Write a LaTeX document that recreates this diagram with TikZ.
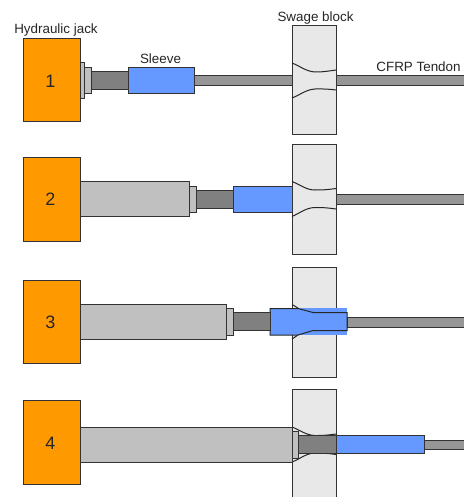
\documentclass[tikz,border=0pt]{standalone}
\usepackage{fontspec}
\setmainfont{Liberation Sans}
\definecolor{jackc}{HTML}{FF9900}
\definecolor{ramc}{HTML}{C0C0C0}
\definecolor{rodc}{HTML}{808080}
\definecolor{sleevec}{HTML}{6699FF}
\definecolor{blockc}{HTML}{E8E8E8}
\definecolor{tendonc}{HTML}{969696}
\tikzset{
 part/.style={draw=black!80,line width=1pt},
 jack/.style={part,fill=jackc},
 ram/.style={part,fill=ramc},
 rod/.style={part,fill=rodc},
 sleeve/.style={part,fill=sleevec},
 block/.style={part,fill=blockc},
 tendon/.style={part,fill=tendonc},
 profile/.style={draw=black!85,line width=1pt},
 lab/.style={font=\fontsize{13.4}{15}\selectfont,inner sep=0pt,text=black!85},
 num/.style={font=\fontsize{18}{20}\selectfont,inner sep=0pt,text=black!85}
}
\begin{document}
\begin{tikzpicture}[x=1pt,y=-1pt]
\useasboundingbox (0,0) rectangle (463,497);
\fill[white] (0,0) rectangle (463,497);
% Row 1
\draw[tendon] (194,76) rectangle (292,85.5);
\draw[tendon] (336,76) rectangle (464,85.5);
\draw[block] (292,26) rectangle (336,135);
\draw[profile] (292,63) .. controls (300,66) and (306,71.5) .. (315,72) .. controls (322,72.2) and (329,71) .. (336,70);
\draw[profile] (292,98) .. controls (300,95) and (306,89.5) .. (315,89) .. controls (322,88.8) and (329,89) .. (336,90);
\draw[jack] (23,39) rectangle (80,122);
\draw[ram] (80,63) rectangle (84.5,98.5);
\draw[ram] (84.5,67.5) rectangle (91,94);
\draw[rod] (91,72) rectangle (128,89.5);
\draw[sleeve] (128,67.5) rectangle (194,94);
% Row 2
\draw[tendon] (336,194.5) rectangle (464,204);
\draw[block] (292,144.5) rectangle (336,254);
\draw[profile] (292,181.5) .. controls (300,184.5) and (306,190) .. (315,190) .. controls (322,190.2) and (329,189.5) .. (336,188.5);
\draw[profile] (292,216.5) .. controls (300,213) and (306,207.7) .. (315,207.5) .. controls (322,207.3) and (329,208) .. (336,209);
\draw[jack] (23,157.5) rectangle (80,241);
\draw[ram] (80,181.5) rectangle (189.5,216.5);
\draw[ram] (189.5,186) rectangle (196,212);
\draw[rod] (196,190.5) rectangle (233,208);
\draw[sleeve] (233,186) rectangle (292,212);
% Row 3
\draw[tendon] (347,317.5) rectangle (464,327);
\draw[block] (292,267) rectangle (336,377);
\fill[sleevec] (270,308) rectangle (347,335);
\draw[profile] (292,304.5) -- (298,308);
\draw[profile] (292,339) -- (298,335);
\draw[profile,fill=sleevec] (270,308.5) -- (298,308.5) -- (313,312.5) -- (347,312.5) -- (347,330.5) -- (313,330.5) -- (298,335) -- (270,335) -- cycle;
\draw[jack] (23,280) rectangle (80,363);
\draw[ram] (80,304.5) rectangle (226.5,339);
\draw[ram] (226.5,308.5) rectangle (233,335);
\draw[rod] (233,312.5) rectangle (270,330.5);
% Row 4
\draw[tendon] (424,440) rectangle (464,449.5);
\draw[block] (292,389.5) rectangle (336,498);
\draw[profile] (292,427) .. controls (300,430) and (306,435.3) .. (315,435.5) .. controls (322,435.7) and (329,435) .. (336,434);
\draw[profile] (292,462) .. controls (300,459) and (306,453.2) .. (315,453) .. controls (322,452.8) and (329,453.5) .. (336,454.5);
\draw[jack] (23,400.5) rectangle (80,484);
\draw[ram] (80,427) rectangle (292,462);
\draw[ram] (292,431) rectangle (298,458);
\draw[rod] (298,435.5) rectangle (336,453);
\draw[sleeve] (336,435.5) rectangle (424,453);
% Labels
\node[num] (n1) at (50.5,81) {1};
\node[num] (n2) at (50.5,199) {2};
\node[num] (n3) at (50.5,322) {3};
\node[num] (n4) at (50.5,443) {4};
\node[lab] (l1) at (56,30.5) {Hydraulic jack};
\node[lab] (l2) at (160.5,58.5) {Sleeve};
\node[lab] (l3) at (315.5,18) {Swage block};
\node[lab] (l4) at (418.5,66.5) {CFRP Tendon};
\end{tikzpicture}
\end{document}
